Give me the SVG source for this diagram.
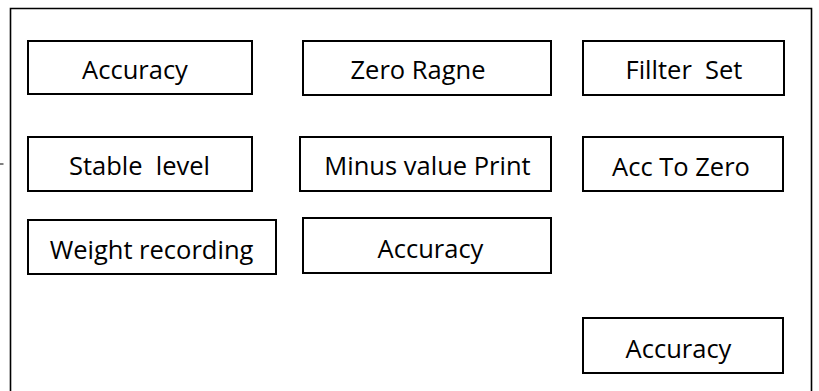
<svg xmlns="http://www.w3.org/2000/svg" width="819" height="391" viewBox="0 0 819 391">
<style>
.box{fill:#fff;stroke:#000;stroke-width:2}
.lbl{font-family:"Open Sans","Noto Sans","Liberation Sans",sans-serif;font-size:25.5px;fill:#000;text-anchor:middle;white-space:pre}
</style>
<rect width="819" height="391" fill="#fff"/>
<path d="M10.5 400 V8.5 H811.5 V400" fill="none" stroke="#000" stroke-width="1.6"/>
<g id="connectors">
<line x1="0" y1="164" x2="3.5" y2="164" stroke="#000" stroke-width="1"/>
</g>
<g id="n-accuracy1"><rect class="box" x="28" y="41" width="224" height="53"/><text class="lbl" x="135" y="79">Accuracy</text></g>
<g id="n-zero-ragne"><rect class="box" x="303" y="41" width="248" height="54"/><text class="lbl" x="418" y="79">Zero Ragne</text></g>
<g id="n-filter-set"><rect class="box" x="583" y="41" width="201" height="54"/><text class="lbl" x="684" y="79" xml:space="preserve">Fillter  Set</text></g>
<g id="n-stable-level"><rect class="box" x="28" y="137" width="224" height="54"/><text class="lbl" x="139.5" y="175" xml:space="preserve">Stable  level</text></g>
<g id="n-minus-value"><rect class="box" x="300" y="137" width="251" height="54"/><text class="lbl" x="427.5" y="175">Minus value Print</text></g>
<g id="n-acc-to-zero"><rect class="box" x="583" y="137" width="200" height="54"/><text class="lbl" x="681" y="176">Acc To Zero</text></g>
<g id="n-weight-recording"><rect class="box" x="28" y="220" width="248" height="54"/><text class="lbl" x="151.5" y="259">Weight recording</text></g>
<g id="n-accuracy2"><rect class="box" x="303" y="218" width="248" height="55"/><text class="lbl" x="430.5" y="258">Accuracy</text></g>
<g id="n-accuracy3"><rect class="box" x="583" y="318" width="200" height="55"/><text class="lbl" x="678.5" y="358">Accuracy</text></g>
</svg>
